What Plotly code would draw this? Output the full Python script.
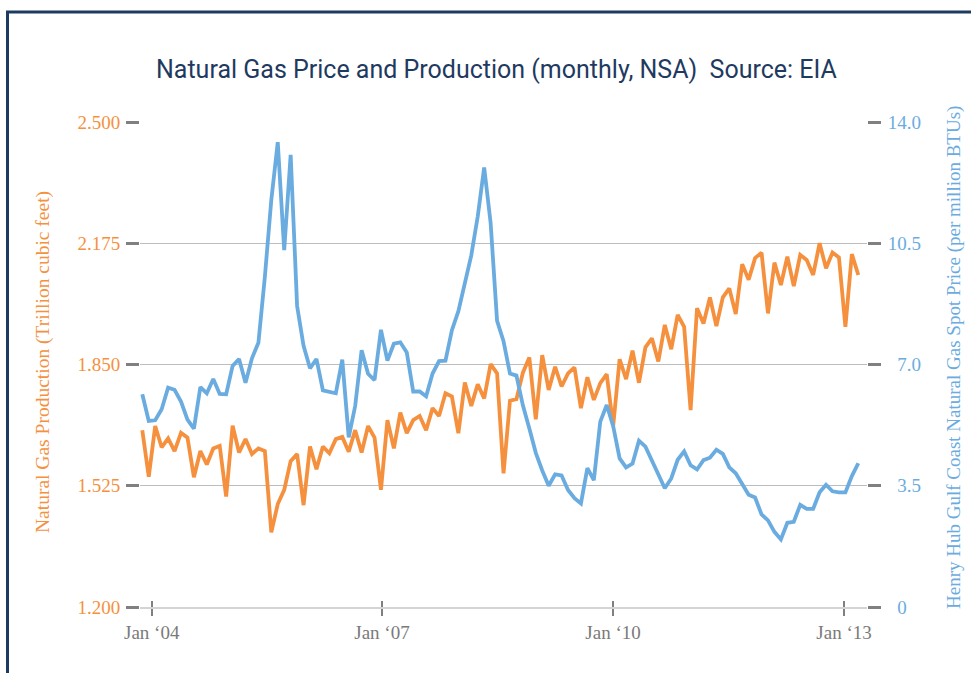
import pandas as pd
import plotly.graph_objects as go

months = pd.date_range("2004-01-01", periods=112, freq="MS").strftime("%Y-%m").tolist()

# Natural gas production (trillion cubic feet), left axis
production = [
    1.674, 1.549, 1.685, 1.628, 1.652, 1.618, 1.667, 1.654, 1.548, 1.618, 1.582, 1.625,
    1.632, 1.496, 1.686, 1.614, 1.650, 1.610, 1.625, 1.618, 1.400, 1.476, 1.514, 1.591,
    1.610, 1.473, 1.630, 1.569, 1.630, 1.612, 1.650, 1.656, 1.616, 1.674, 1.614, 1.685,
    1.654, 1.514, 1.701, 1.625, 1.721, 1.666, 1.701, 1.712, 1.674, 1.733, 1.712, 1.773,
    1.764, 1.666, 1.802, 1.739, 1.797, 1.759, 1.851, 1.826, 1.558, 1.753, 1.757, 1.828,
    1.869, 1.703, 1.875, 1.782, 1.844, 1.791, 1.826, 1.842, 1.733, 1.816, 1.755, 1.800,
    1.824, 1.685, 1.864, 1.811, 1.887, 1.801, 1.896, 1.920, 1.858, 1.956, 1.891, 1.983,
    1.951, 1.728, 2.001, 1.960, 2.030, 1.953, 2.030, 2.054, 1.985, 2.119, 2.077, 2.135,
    2.150, 1.987, 2.123, 2.063, 2.139, 2.060, 2.144, 2.130, 2.090, 2.175, 2.108, 2.150,
    2.137, 1.951, 2.146, 2.090,
]

# Henry Hub spot price ($ per million BTU), right axis
price = [
    6.14, 5.37, 5.39, 5.71, 6.33, 6.27, 5.93, 5.41, 5.15, 6.35, 6.17, 6.58,
    6.15, 6.14, 6.96, 7.16, 6.47, 7.18, 7.63, 9.53, 11.75, 13.42, 10.30, 13.05,
    8.69, 7.54, 6.89, 7.16, 6.25, 6.21, 6.17, 7.14, 4.90, 5.80, 7.41, 6.73,
    6.55, 8.00, 7.11, 7.60, 7.64, 7.35, 6.22, 6.22, 6.08, 6.74, 7.10, 7.11,
    7.99, 8.54, 9.30, 10.15, 11.27, 12.69, 11.09, 8.26, 7.67, 6.74, 6.68, 5.82,
    5.15, 4.45, 3.94, 3.50, 3.83, 3.80, 3.38, 3.14, 2.99, 4.01, 3.66, 5.35,
    5.83, 5.22, 4.29, 4.03, 4.14, 4.80, 4.63, 4.22, 3.80, 3.43, 3.71, 4.25,
    4.49, 4.09, 3.97, 4.24, 4.31, 4.54, 4.42, 4.03, 3.86, 3.54, 3.24, 3.16,
    2.67, 2.50, 2.17, 1.95, 2.43, 2.46, 2.95, 2.83, 2.83, 3.31, 3.53, 3.34,
    3.31, 3.31, 3.78, 4.15,
]

x_tick_labels = ["Jan \u201804", "Jan \u201807", "Jan \u201810", "Jan \u201813"]
x_tick_pos = [1.46, 37.16, 72.98, 108.79]
left_ticks = [1.2, 1.525, 1.85, 2.175, 2.5]
right_ticks = [0, 3.5, 7, 10.5, 14]
right_tick_text = ["\u20070", "\u20073.5", "\u20077.0", "10.5", "14.0"]

TITLE = "Natural Gas Price and Production (monthly, NSA)\u00a0\u00a0Source: EIA"
LEFT_TITLE = "Natural Gas Production (Trillion cubic feet)"
RIGHT_TITLE = "Henry Hub Gulf Coast Natural Gas Spot Price (per million BTUs)"

ORANGE = "#F5913E"
BLUE = "#6AACE0"
NAVY = "#1F3A60"
TICKC = "#808080"
SERIF = "Liberation Serif, Times New Roman, serif"

idx = list(range(len(months)))
x_range = [-0.357, 112.349]

fig = go.Figure()
fig.add_trace(go.Scatter(
    x=idx, y=production, customdata=months, mode="lines",
    line=dict(color=ORANGE, width=3.8), name="Production",
    hovertemplate="%{customdata}: %{y:.3f}<extra></extra>", yaxis="y",
))
fig.add_trace(go.Scatter(
    x=idx, y=price, customdata=months, mode="lines",
    line=dict(color=BLUE, width=3.8), name="Price",
    hovertemplate="%{customdata}: %{y:.2f}<extra></extra>", yaxis="y2",
))
fig.add_trace(go.Scatter(x=[None], y=[None], xaxis="x2", yaxis="y",
                         showlegend=False, hoverinfo="skip"))

fig.update_layout(
    width=971, height=673,
    margin=dict(l=140, r=104, t=122, b=66),
    paper_bgcolor="white", plot_bgcolor="white",
    showlegend=False,
    xaxis=dict(
        range=x_range, tickmode="array", tickvals=x_tick_pos, ticktext=x_tick_labels,
        ticks="outside", ticklen=7, tickwidth=2, tickcolor=TICKC,
        showgrid=False, zeroline=False,
        showline=True, linecolor="#D4D4D4", linewidth=2,
        tickfont=dict(family=SERIF, size=19, color="#7A7A7A"),
    ),
    xaxis2=dict(
        range=x_range, overlaying="x", anchor="y", side="bottom",
        tickmode="array", tickvals=x_tick_pos, ticks="inside", ticklen=6,
        tickwidth=2, tickcolor=TICKC, showticklabels=False,
        showgrid=False, zeroline=False, showline=False,
    ),
    yaxis=dict(
        range=[1.2, 2.5], tickmode="array", tickvals=left_ticks, tickformat=".3f",
        ticks="outside", ticklen=13, tickwidth=2.5, tickcolor=TICKC,
        showgrid=True, gridcolor="#BDBDBD", gridwidth=1,
        zeroline=False, showline=False, ticklabelstandoff=2,
        tickfont=dict(family=SERIF, size=19, color=ORANGE),
    ),
    yaxis2=dict(
        range=[0, 14], overlaying="y", side="right", anchor="x",
        tickmode="array", tickvals=right_ticks, ticktext=right_tick_text,
        ticks="outside", ticklen=13, tickwidth=2.5, tickcolor=TICKC,
        showgrid=False, zeroline=False, showline=False, ticklabelstandoff=3,
        tickfont=dict(family=SERIF, size=19, color=BLUE),
    ),
)

# frame around the chart (left and top edges visible)
fig.add_shape(type="rect", xref="paper", yref="paper",
              x0=(7.5 - 140) / 727, x1=1.3, y0=-0.3, y1=(607 - 12) / 485,
              line=dict(color=NAVY, width=3), fillcolor="rgba(0,0,0,0)", layer="above")

fig.add_annotation(text=TITLE, xref="paper", yref="paper",
                   x=(496 - 140) / 727, y=(607 - 70) / 485,
                   xanchor="center", yanchor="middle", showarrow=False,
                   font=dict(family="Roboto, Liberation Sans, sans-serif",
                             size=25, color=NAVY))
fig.add_annotation(text=LEFT_TITLE, xref="paper", yref="paper",
                   x=(43 - 140) / 727, y=(607 - 362) / 485, textangle=-90,
                   xanchor="center", yanchor="middle", showarrow=False,
                   font=dict(family=SERIF, size=19.5, color=ORANGE))
fig.add_annotation(text=RIGHT_TITLE, xref="paper", yref="paper",
                   x=(954 - 140) / 727, y=(607 - 358) / 485, textangle=-90,
                   xanchor="center", yanchor="middle", showarrow=False,
                   font=dict(family=SERIF, size=19, color=BLUE))

fig.write_html(
    "out.html",
    config={"displayModeBar": False},
    post_script="document.body.style.margin='0';document.body.style.overflow='hidden';",
)
